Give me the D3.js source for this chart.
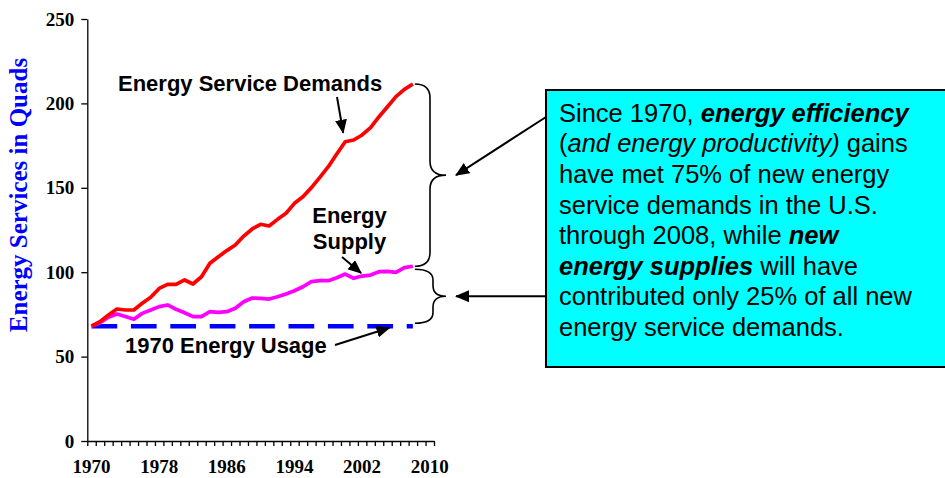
<!DOCTYPE html>
<html><head><meta charset="utf-8">
<script src="https://cdn.jsdelivr.net/npm/d3@7"></script>
<style>
html,body{margin:0;padding:0;background:#fff;}
svg{display:block;}
</style></head>
<body>
<svg id="chart" width="945" height="478"></svg>
<script>
// ---- data ----
const years = d3.range(1970, 2011);            // category axis 1970..2010
const dataYears = d3.range(1970, 2009);        // data 1970..2008
const serviceDemands = [68,70.7,74.6,78.2,77.6,77.6,81.6,85.1,90.4,92.8,92.8,95.4,93.0,97.3,105.3,109.2,112.8,116.1,121.4,125.6,128.4,127.4,131.3,134.9,140.8,144.7,150.1,156.2,162.5,170,177.3,178.3,181.3,185.6,192.1,198,204,208.3,211.5];
const energySupply = [68,70.1,73.3,75.2,73.7,72.1,75.6,77.6,79.6,80.6,78,76,73.7,73.7,76.6,76.2,76.6,78.6,82.5,84.7,84.5,84.1,85.5,87.1,89,91.4,94.4,95,95,96.7,98.9,96.4,97.7,98.3,100.3,100.5,99.9,102.7,103.5];
const baseUsage1970 = 68;
const yTicks = [0,50,100,150,200,250];
const xLabelYears = [1970,1978,1986,1994,2002,2010];

const svg = d3.select("#chart");
const x0 = 87.3, x1 = 434, yTop = 19, yBot = 441;

// category edges scale (ticks between categories), points at category centres
const xEdge = d3.scaleLinear().domain([1970, 2011]).range([x0, x1]);
const xc = yr => xEdge(yr + 0.5);
const y = d3.scaleLinear().domain([0, 250]).range([yBot, yTop]);

// ---- axes ----
const yAxis = svg.append("g").attr("transform", `translate(${x0},0)`)
  .call(d3.axisLeft(y).tickValues(yTicks).tickSize(6).tickSizeOuter(0).tickPadding(7));
yAxis.selectAll("text").attr("font-family","'Liberation Serif','Times New Roman',serif")
  .attr("font-weight","bold").attr("font-size",19).attr("fill","#000");
yAxis.selectAll("line,path").attr("stroke","#000").attr("stroke-width",1.3);

const xAxis = svg.append("g").attr("transform", `translate(0,${yBot})`)
  .call(d3.axisBottom(xEdge).tickValues(d3.range(1970, 2012)).tickSize(5).tickSizeOuter(0).tickFormat(""));
xAxis.selectAll("line,path").attr("stroke","#000").attr("stroke-width",1.3);

svg.append("g").selectAll("text").data(xLabelYears).join("text")
  .attr("x", d => xc(d)).attr("y", 473).attr("text-anchor","middle")
  .attr("font-family","'Liberation Serif','Times New Roman',serif")
  .attr("font-weight","bold").attr("font-size",19).text(d => d);

svg.append("text")
  .attr("transform", "translate(27,195) rotate(-90)")
  .attr("text-anchor","middle")
  .attr("font-family","'Liberation Serif','Times New Roman',serif")
  .attr("font-weight","bold").attr("font-size",25).attr("fill","#0000FF")
  .text("Energy Services in Quads");

// ---- lines ----
const line = d3.line().x((d,i) => xc(dataYears[i])).y(d => y(d));
svg.append("line")
  .attr("x1", xc(1970)).attr("x2", xc(2008))
  .attr("y1", y(baseUsage1970)).attr("y2", y(baseUsage1970))
  .attr("stroke","#0000FF").attr("stroke-width",4.5).attr("stroke-dasharray","25.7,13.7");
svg.append("path").datum(energySupply).attr("d", line)
  .attr("fill","none").attr("stroke","#FF00FF").attr("stroke-width",3.7).attr("stroke-linejoin","round");
svg.append("path").datum(serviceDemands).attr("d", line)
  .attr("fill","none").attr("stroke","#FF0000").attr("stroke-width",3.7).attr("stroke-linejoin","round");

// ---- arrow marker ----
const defs = svg.append("defs");
defs.append("marker").attr("id","ah").attr("markerUnits","userSpaceOnUse")
  .attr("viewBox","0 0 14 12").attr("refX",13).attr("refY",6)
  .attr("markerWidth",14).attr("markerHeight",12).attr("orient","auto")
  .append("path").attr("d","M0,0 L14,6 L0,12 Z").attr("fill","#000");

const sans = "'Liberation Sans',Arial,sans-serif";
function label(txt, xx, yy, anchor){
  svg.append("text").attr("x",xx).attr("y",yy).attr("text-anchor",anchor||"start")
    .attr("font-family",sans).attr("font-weight","bold").attr("font-size",22).text(txt);
}
function arrow(xa, ya, xb, yb, w){
  svg.append("line").attr("x1",xa).attr("y1",ya).attr("x2",xb).attr("y2",yb)
    .attr("stroke","#000").attr("stroke-width",w||1.8).attr("marker-end","url(#ah)");
}

// annotations
label("Energy Service Demands", 118, 90.7);
arrow(337, 97, xc(2000) - 2, y(serviceDemands[30]) - 9, 2);
label("Energy", 349.5, 222.7, "middle");
label("Supply", 349.5, 249, "middle");
arrow(342, 257, xc(2002) - 1, y(energySupply[32]) - 3, 2);
label("1970 Energy Usage", 125, 353);
arrow(335, 345, xc(2005) + 2, y(baseUsage1970) + 1.5, 2);

// braces
const bx = xc(2008) + 2;
function brace(yA, yB, colX, tipX){
  const m = (yA + yB) / 2, r = Math.min(14, (yB - yA) / 5);
  const p = `M${bx},${yA} Q${colX},${yA} ${colX},${yA + r} L${colX},${m - r} Q${colX},${m} ${tipX},${m}`
          + ` Q${colX},${m} ${colX},${m + r} L${colX},${yB - r} Q${colX},${yB} ${bx},${yB}`;
  svg.append("path").attr("d", p).attr("fill","none").attr("stroke","#000").attr("stroke-width",1.6);
}
const yDemEnd = y(serviceDemands[serviceDemands.length-1]);
const ySupEnd = y(energySupply[energySupply.length-1]);
const yBase = y(baseUsage1970);
brace(yDemEnd, ySupEnd, 430, 446);
brace(ySupEnd + 3, yBase - 3, 433, 446);

// text box
svg.append("rect").attr("x",546).attr("y",90).attr("width",420).attr("height",277)
  .attr("fill","#00FFFF").attr("stroke","#000").attr("stroke-width",2);
arrow(546, 117, 456, (yDemEnd + ySupEnd) / 2, 2);
arrow(546, (ySupEnd + yBase) / 2, 456, (ySupEnd + yBase) / 2, 2);

const boxLines = [
  [["Since 1970, ","n"],["energy efficiency","bi"]],
  [["(","n"],["and energy productivity)","i"],[" gains","n"]],
  [["have met 75% of new energy","n"]],
  [["service demands in the U.S.","n"]],
  [["through 2008, while ","n"],["new","bi"]],
  [["energy supplies","bi"],[" will have","n"]],
  [["contributed only 25% of all new","n"]],
  [["energy service demands.","n"]]
];
const bt = svg.append("text").attr("font-family",sans).attr("font-size",25.5).attr("fill","#000");
boxLines.forEach((ln, i) => {
  ln.forEach((seg, j) => {
    const t = bt.append("tspan").text(seg[0]).attr("xml:space","preserve");
    if (j === 0) t.attr("x", 559).attr("y", 121.7 + i * 30.6);
    if (seg[1].includes("b")) t.attr("font-weight","bold");
    if (seg[1].includes("i")) t.attr("font-style","italic");
  });
});
bt.style("white-space","pre");
</script>
</body></html>
